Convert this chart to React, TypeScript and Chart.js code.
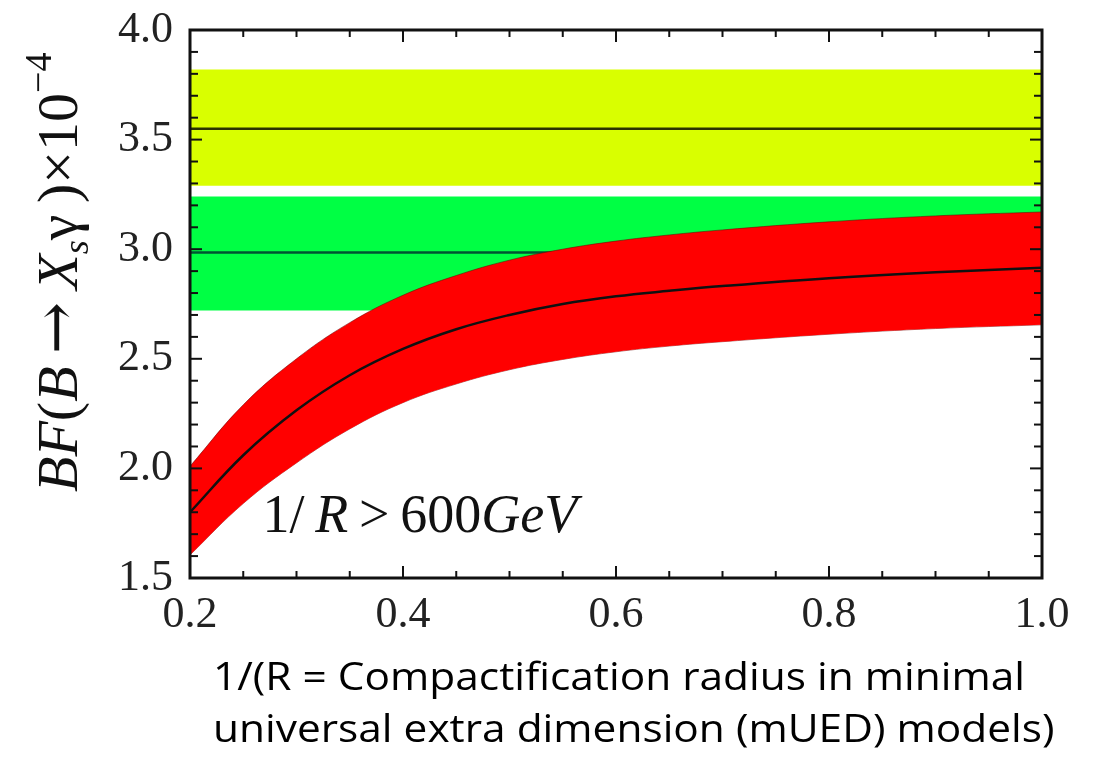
import React, { useEffect, useRef } from 'react';
import { Chart, registerables } from 'chart.js';
Chart.register(...registerables);

// ---- data ----
const xRange = [0.2, 1.0];
const expBand = [3.29, 3.55, 3.82]; // lower, central, upper (experiment)
const smBand = [2.72, 2.985, 3.24]; // lower, central, upper (SM)
const uedX = [0.2, 0.25, 0.3, 0.35, 0.4, 0.45, 0.5, 0.55, 0.6, 0.65, 0.7, 0.8, 0.9, 1.0];
const uedCentral = [1.8, 2.06, 2.265, 2.425, 2.545, 2.635, 2.7, 2.75, 2.785, 2.81, 2.832, 2.868, 2.895, 2.915];
const uedUpper = [2.01, 2.29, 2.5, 2.665, 2.79, 2.88, 2.95, 3.0, 3.037, 3.065, 3.088, 3.125, 3.152, 3.17];
const uedLower = [1.605, 1.84, 2.025, 2.18, 2.3, 2.385, 2.45, 2.497, 2.532, 2.558, 2.578, 2.612, 2.638, 2.655];
const xTickLabels = ['0.2', '0.4', '0.6', '0.8', '1.0'];
const yTickLabels = ['1.5', '2.0', '2.5', '3.0', '3.5', '4.0'];
const annotation = { x: 0.268, y: 1.71 };
const xTitleLines = ['1/(R = Compactification radius in minimal', 'universal extra dimension (mUED) models)'];

const SERIF = '"Liberation Serif", "DejaVu Serif", serif';

const flat = (v: number) => xRange.map((x) => ({ x, y: v }));
const curve = (ys: number[]) => uedX.map((x, i) => ({ x, y: ys[i] }));

function drawSegments(ctx: CanvasRenderingContext2D, segs: [string, string, number][]) {
  let cx = 0;
  for (const [t, font, dy] of segs) {
    ctx.font = font;
    ctx.fillText(t, cx, dy);
    cx += ctx.measureText(t).width;
  }
}

const decor = {
  id: 'decor',
  afterDraw(chart: any) {
    const { ctx, chartArea: a, scales } = chart;
    const x = scales.x, y = scales.y;
    ctx.save();
    ctx.strokeStyle = '#111';
    ctx.lineWidth = 2;
    const seg = (x1: number, y1: number, x2: number, y2: number) => {
      ctx.beginPath(); ctx.moveTo(x1, y1); ctx.lineTo(x2, y2); ctx.stroke();
    };
    for (let i = 0; i <= 16; i++) {
      const v = 0.2 + i * 0.05;
      const px = x.getPixelForValue(v);
      const len = i % 4 === 0 ? 12 : 7;
      seg(px, a.bottom, px, a.bottom - len);
      seg(px, a.top, px, a.top + len);
    }
    for (let i = 0; i <= 25; i++) {
      const v = 1.5 + i * 0.1;
      const py = y.getPixelForValue(v);
      const len = i % 5 === 0 ? 12 : 8;
      seg(a.left, py, a.left + len, py);
      seg(a.right, py, a.right - len, py);
    }
    ctx.lineWidth = 3;
    ctx.strokeRect(a.left, a.top, a.right - a.left, a.bottom - a.top);

    ctx.fillStyle = '#111';
    ctx.textBaseline = 'alphabetic';
    ctx.textAlign = 'left';
    // annotation
    ctx.save();
    ctx.translate(x.getPixelForValue(annotation.x), y.getPixelForValue(annotation.y));
    const n56 = `54px ${SERIF}`, i56 = `italic 54px ${SERIF}`;
    drawSegments(ctx, [['1/\u2009', n56, 0], ['R', i56, 0], ['\u2009>\u2009600', n56, 0], ['GeV', i56, 0]]);
    ctx.restore();

    // y title
    ctx.save();
    ctx.translate(77, 492);
    ctx.rotate(-Math.PI / 2);
    const n = `58px ${SERIF}`, it = `italic 58px ${SERIF}`;
    const sit = `italic 36px ${SERIF}`, sn = `38px ${SERIF}`;
    drawSegments(ctx, [
      ['BF', it, 0], ['(', n, 0], ['B', it, 0], ['\u2009\u2192\u2009', `62px "DejaVu Serif", serif`, 0], ['X', it, 0],
      ['s', sit, 11], ['\u03b3', n, 0], ['\u2009)', n, 0], ['\u00d7', n, 0], ['10', n, 0], ['\u22124', sn, -26],
    ]);
    ctx.restore();

    // x title (Calibri-like, condensed)
    ctx.save();
    ctx.fillStyle = '#000';
    ctx.font = '38px "Open Sans", "Noto Sans", sans-serif';
    const w1 = ctx.measureText(xTitleLines[0]).width;
    const sx = 812 / w1;
    ctx.translate(213, 690);
    ctx.scale(sx, 1);
    ctx.fillText(xTitleLines[0], 0, 0);
    ctx.fillText(xTitleLines[1], 0, 52);
    ctx.restore();

    ctx.restore();
  },
};

export default function App() {
  const ref = useRef<HTMLCanvasElement | null>(null);
  useEffect(() => {
    document.body.style.margin = '0';
    const canvas = ref.current!;
    const base = { pointRadius: 0, pointHoverRadius: 0, tension: 0 };
    const bandLine = { ...base, borderWidth: 0, borderColor: 'rgba(0,0,0,0)' };
    const smooth = { tension: 0.4 };
    const chart = new Chart(canvas, {
      type: 'line',
      data: {
        datasets: [
          // 0: mUED central (top-most)
          { ...base, ...smooth, data: curve(uedCentral), borderColor: '#111', borderWidth: 2.5, fill: false },
          // 1: mUED upper, filled to lower
          { ...base, ...smooth, data: curve(uedUpper), borderColor: 'rgba(110,0,0,0.55)', borderWidth: 1, backgroundColor: '#ff0000', fill: 2 },
          // 2: mUED lower
          { ...base, ...smooth, data: curve(uedLower), borderColor: 'rgba(110,0,0,0.55)', borderWidth: 1, fill: false },
          // 3: SM central
          { ...base, data: flat(smBand[1]), borderColor: '#053', borderWidth: 2.5, fill: false },
          // 4: SM upper filled to lower
          { ...bandLine, data: flat(smBand[2]), backgroundColor: '#00ff44', fill: 5 },
          // 5: SM lower
          { ...bandLine, data: flat(smBand[0]), fill: false },
          // 6: exp central
          { ...base, data: flat(expBand[1]), borderColor: '#2a3300', borderWidth: 2.5, fill: false },
          // 7: exp upper filled to lower
          { ...bandLine, data: flat(expBand[2]), backgroundColor: '#d9ff00', fill: 8 },
          // 8: exp lower
          { ...bandLine, data: flat(expBand[0]), fill: false },
        ],
      },
      options: {
        animation: false,
        responsive: false,
        devicePixelRatio: 1,
        layout: { padding: { left: 0, top: 30, right: 65, bottom: 0 } },
        plugins: { legend: { display: false }, tooltip: { enabled: false }, title: { display: false } },
        scales: {
          x: {
            type: 'linear', min: xRange[0], max: xRange[1],
            grid: { display: false, drawTicks: false },
            border: { display: false },
            ticks: {
              stepSize: 0.2, autoSkip: false, maxRotation: 0, padding: 11, color: '#222',
              font: { family: SERIF, size: 44 },
              callback: (v: any) => xTickLabels.find((l) => Math.abs(parseFloat(l) - v) < 1e-6) ?? '',
            },
            afterFit: (s: any) => { s.height = 183; s.paddingLeft = 0; s.paddingRight = 0; },
          },
          y: {
            type: 'linear', min: 1.5, max: 4.0,
            grid: { display: false, drawTicks: false },
            border: { display: false },
            ticks: {
              stepSize: 0.5, autoSkip: false, padding: 17, color: '#222',
              font: { family: SERIF, size: 44 },
              callback: (v: any) => yTickLabels.find((l) => Math.abs(parseFloat(l) - v) < 1e-6) ?? '',
            },
            afterFit: (s: any) => { s.width = 190; s.paddingTop = 0; s.paddingBottom = 0; },
          },
        },
      },
      plugins: [decor],
    });
    return () => chart.destroy();
  }, []);
  return <canvas ref={ref} width={1107} height={761} style={{ display: 'block', width: 1107, height: 761 }} />;
}
